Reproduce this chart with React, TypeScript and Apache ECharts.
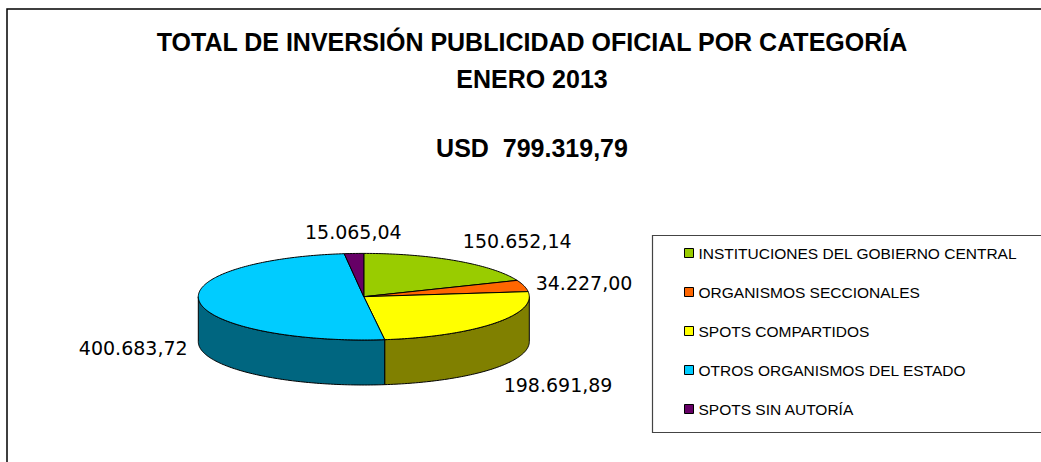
import React, { useEffect, useRef } from 'react';
import * as echarts from 'echarts';

const categories = [
  'INSTITUCIONES DEL GOBIERNO CENTRAL',
  'ORGANISMOS SECCIONALES',
  'SPOTS COMPARTIDOS',
  'OTROS ORGANISMOS DEL ESTADO',
  'SPOTS SIN AUTORÍA',
];
const values = [150652.14, 34227.0, 198691.89, 400683.72, 15065.04];
const topColors = ['#99CC00', '#FF6600', '#FFFF00', '#00CCFF', '#660066'];
const sideColors = ['#4C6600', '#803300', '#808000', '#006680', '#330033'];
const titleLines = ['TOTAL DE INVERSIÓN PUBLICIDAD OFICIAL POR CATEGORÍA', 'ENERO 2013'];
const currency = 'USD';

function fmt(v: number): string {
  const fixed = (Math.round(v * 100) / 100).toFixed(2);
  const [intPart, dec] = fixed.split('.');
  return intPart.replace(/\B(?=(\d{3})+(?!\d))/g, '.') + ',' + dec;
}

const total = values.reduce((a, b) => a + b, 0);
const cumulative: number[] = [];
values.reduce((acc, v, i) => {
  cumulative[i] = acc;
  return acc + v;
}, 0);

// layout of the 3D pie (style constants)
const CX = 363.8;
const CY = 296.7;
const RX = 165.5;
const RY = 43.3;
const DEPTH = 45;
const LABEL_GAP = 12;
const FONT = "'Liberation Sans', Arial, sans-serif";

function pt(deg: number, dy = 0): number[] {
  const r = (deg * Math.PI) / 180;
  return [CX + RX * Math.sin(r), CY - RY * Math.cos(r) + dy];
}

function arc(a: number, b: number, dy = 0): number[][] {
  const n = Math.max(2, Math.ceil(Math.abs(b - a) / 1));
  const pts: number[][] = [];
  for (let k = 0; k <= n; k++) pts.push(pt(a + ((b - a) * k) / n, dy));
  return pts;
}

function makeRenderItem(i: number) {
  return (params: any, api: any) => {
    const v = api.value(0) as number;
    const start = (cumulative[i] / total) * 360;
    const end = start + (v / total) * 360;
    const children: any[] = [];
    const a = Math.max(start, 90);
    const b = Math.min(end, 270);
    if (b > a) {
      const pts = arc(a, b).concat(arc(b, a, DEPTH));
      children.push({
        type: 'polygon',
        shape: { points: pts },
        style: { fill: sideColors[i], stroke: '#000', lineWidth: 1 },
      });
    }
    children.push({
      type: 'polygon',
      shape: { points: [[CX, CY]].concat(arc(start, end)) },
      style: { fill: topColors[i], stroke: '#000', lineWidth: 1 },
    });
    const mid = (start + end) / 2;
    const r = (mid * Math.PI) / 180;
    const s = Math.sin(r);
    const c = Math.cos(r);
    const edge = pt(mid, c < 0 ? DEPTH : 0);
    const lx = edge[0] + s * LABEL_GAP;
    const ly = edge[1] - c * LABEL_GAP;
    const align = s > 0.3 ? 'left' : s < -0.3 ? 'right' : 'center';
    const vAlign = c > 0.3 ? 'bottom' : c < -0.3 ? 'top' : 'middle';
    children.push({
      type: 'text',
      x: lx,
      y: ly,
      style: {
        text: fmt(v),
        fill: '#000',
        fontSize: 19,
        fontFamily: "'DejaVu Sans', sans-serif",
        align,
        verticalAlign: vAlign,
      },
    });
    return { type: 'group', children };
  };
}

const option: any = {
  animation: false,
  backgroundColor: '#ffffff',
  color: topColors,
  title: [
    {
      text: titleLines.join('\n'),
      left: 532,
      top: 23,
      textAlign: 'center',
      padding: 0,
      textStyle: {
        fontFamily: FONT,
        fontSize: 25,
        fontWeight: 'bold',
        color: '#000',
        lineHeight: 37,
      },
    },
    {
      text: currency + '  ' + fmt(total),
      left: 532,
      top: 135,
      textAlign: 'center',
      padding: 0,
      textStyle: {
        fontFamily: FONT,
        fontSize: 25,
        fontWeight: 'bold',
        color: '#000',
        lineHeight: 25,
      },
    },
  ],
  legend: {
    data: categories,
    orient: 'vertical',
    left: 684,
    top: 245,
    padding: 0,
    icon: 'rect',
    itemWidth: 9,
    itemHeight: 9,
    itemGap: 23,
    selectedMode: false,
    itemStyle: { borderColor: '#000', borderWidth: 1 },
    textStyle: { fontFamily: FONT, fontSize: 15.5, color: '#000', lineHeight: 16 },
  },
  graphic: [
    {
      type: 'rect',
      shape: { x: 7, y: 9, width: 1200, height: 600 },
      style: { fill: 'none', stroke: '#000', lineWidth: 1.5 },
      silent: true,
    },
    {
      type: 'rect',
      shape: { x: 652.5, y: 235.5, width: 600, height: 197 },
      style: { fill: 'none', stroke: '#444', lineWidth: 1.2 },
      silent: true,
    },
  ],
  series: categories.map((name, i) => ({
    type: 'custom',
    name,
    coordinateSystem: 'none',
    silent: true,
    itemStyle: { color: topColors[i] },
    data: [values[i]],
    renderItem: makeRenderItem(i),
  })),
};

export default function App() {
  const ref = useRef<HTMLDivElement>(null);
  useEffect(() => {
    const chart = echarts.init(ref.current!, null, { renderer: 'svg' });
    chart.setOption(option);
    return () => chart.dispose();
  }, []);
  return (
    <div
      ref={ref}
      style={{ position: 'fixed', left: 0, top: 0, width: 1041, height: 462, background: '#fff' }}
    />
  );
}
